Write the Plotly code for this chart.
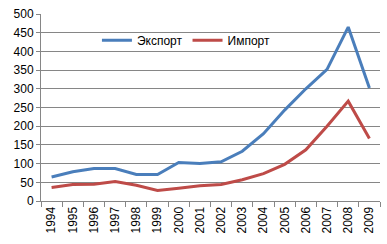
import plotly.graph_objects as go

years = [str(y) for y in range(1994, 2010)]
export = [64, 78, 87, 87, 71, 71, 103, 100, 105, 133, 180, 243, 300, 352, 465, 302]
imports = [36, 44, 45, 52, 42, 28, 34, 41, 44, 57, 73, 98, 137, 200, 267, 167]

fig = go.Figure()
fig.add_trace(go.Scatter(x=years, y=export, mode="lines", name="Экспорт",
                         line=dict(color="#4A7EBB", width=3)))
fig.add_trace(go.Scatter(x=years, y=imports, mode="lines", name="Импорт",
                         line=dict(color="#BE4B48", width=3)))

fig.update_layout(
    width=387, height=244,
    margin=dict(l=41, r=7, t=11, b=43),
    paper_bgcolor="white", plot_bgcolor="white",
    font=dict(family="Liberation Sans, Arial", size=12, color="black"),
    showlegend=True,
    legend=dict(orientation="h", x=0.165, y=0.86, xanchor="left", yanchor="middle",
                bgcolor="rgba(0,0,0,0)", font=dict(size=12), itemwidth=30,
                tracegroupgap=0),
)
fig.update_xaxes(type="category", tickson="boundaries", ticks="outside", ticklen=5,
                 tickcolor="#868686", showline=True, linecolor="#868686", linewidth=1,
                 showgrid=False, tickangle=-90, range=[-0.5, 15.5])
fig.update_yaxes(range=[0, 500], dtick=50, showgrid=True, gridcolor="#868686", gridwidth=1,
                 showline=True, linecolor="#868686", linewidth=1, ticks="outside",
                 ticklen=4, tickcolor="#868686", zeroline=False)

fig.write_html("out.html")
